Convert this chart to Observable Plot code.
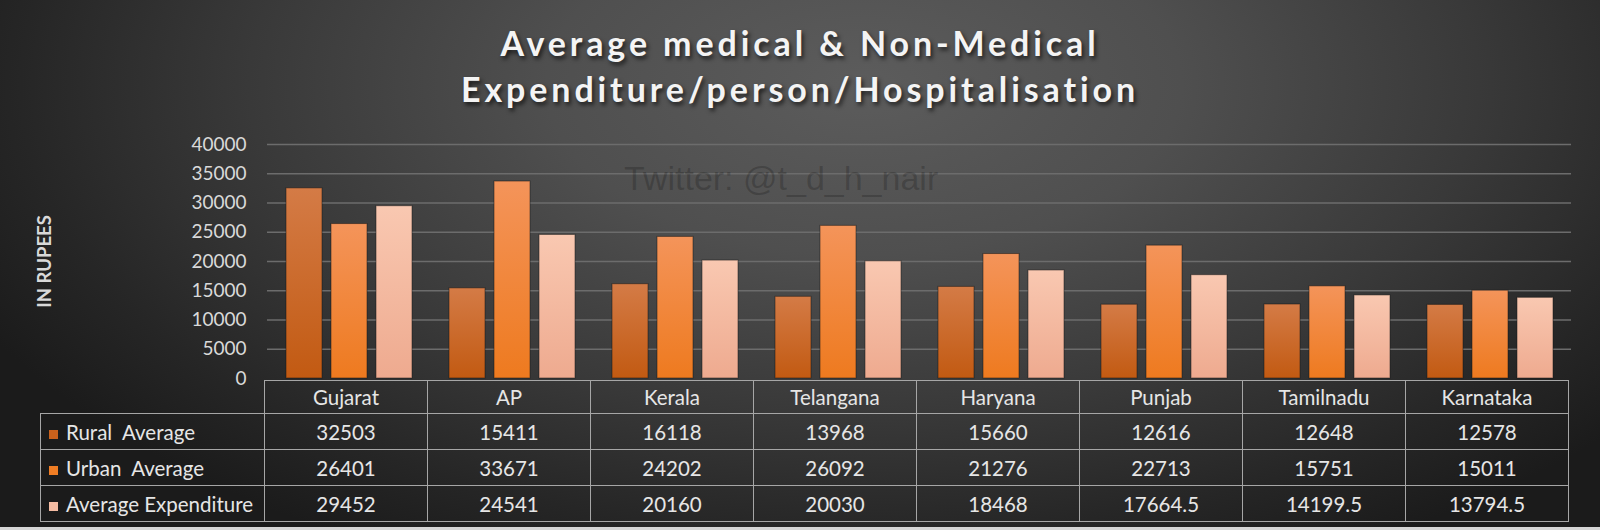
<!DOCTYPE html>
<html>
<head>
<meta charset="utf-8">
<script src="https://cdn.jsdelivr.net/npm/d3@7"></script>
<script src="https://cdn.jsdelivr.net/npm/@observablehq/plot@0.6"></script>
<style>
html, body { margin: 0; padding: 0; background: #1c1c1c; }
#wrap {
  position: relative; width: 1600px; height: 530px; overflow: hidden;
  background: radial-gradient(ellipse 62% 100% at 54% 16%, #5c5c5c 0%, #4f4f4f 32%, #393939 62%, #262626 85%, #1b1b1b 100%);
  font-family: Lato, "Open Sans", sans-serif;
}
#title {
  position: absolute; left: 0; top: 0; width: 1600px; height: 120px; box-sizing: border-box;
  padding-top: 20px; text-align: center; color: #f4f4f4; font-weight: bold;
  font-size: 34px; line-height: 46px; letter-spacing: 3.9px;
  text-shadow: 2px 3px 4px rgba(0,0,0,0.65);
}
#chart { position: absolute; left: 0; top: 120px; }
#chart svg { overflow: visible; }
#chart g[aria-label="y-axis label"] text { font-weight: bold; font-size: 18.5px; fill: #d9d9d9; }
#watermark {
  position: absolute; left: 624px; top: 158px; font-family: "Liberation Sans", Arial, sans-serif;
  font-size: 34px; line-height: 40px; color: rgba(0,0,0,0.2); white-space: pre;
}
#dt {
  position: absolute; left: 40px; top: 380px; border-collapse: collapse; table-layout: fixed;
  color: #e6e6e6; font-size: 20.5px; font-family: Lato, "Open Sans", sans-serif;
}
#dt td { border: 1.5px solid #a6a6a6; text-align: center; padding: 0; height: 35px; white-space: pre; }
#dt tr.hdr td { height: 32px; }
#dt td.blank { border-top: none; border-left: none; }
#dt td.lab { text-align: left; padding-left: 8px; }
#dt .key { display: inline-block; width: 9px; height: 9px; margin-right: 8px; vertical-align: 1px; }
#strip { position: absolute; left: 0; bottom: 0; width: 1600px; height: 3px; background: #d6d6d6; }
</style>
</head>
<body>
<div id="wrap">
  <div id="title">Average medical &amp; Non-Medical<br>Expenditure/person/Hospitalisation</div>
  <div id="chart"></div>
  <div id="watermark">Twitter: @t_d_h_nair</div>
  <div id="strip"></div>
</div>
<script>
const states = ["Gujarat", "AP", "Kerala", "Telangana", "Haryana", "Punjab", "Tamilnadu", "Karnataka"];
const seriesNames = ["Rural  Average", "Urban  Average", "Average Expenditure"];
const rural = [32503, 15411, 16118, 13968, 15660, 12616, 12648, 12578];
const urban = [26401, 33671, 24202, 26092, 21276, 22713, 15751, 15011];
const avgExp = [29452, 24541, 20160, 20030, 18468, 17664.5, 14199.5, 13794.5];
const yTicks = [0, 5000, 10000, 15000, 20000, 25000, 30000, 35000, 40000];
const seriesFills = ["url(#gRural)", "url(#gUrban)", "url(#gAvg)"];
const keyColors = ["#c9611c", "#f07d24", "#f5bca3"];
const gradStops = [["gRural", "#d47b46", "#c25a12"], ["gUrban", "#f4945a", "#ee7a1f"], ["gAvg", "#f9c8b1", "#eeaa8f"]];

const seriesValues = [rural, urban, avgExp];
const rows = states.flatMap((s, i) => seriesNames.map((n, j) => ({state: s, series: n, value: seriesValues[j][i]})));

const chart = Plot.plot({
  width: 1600, height: 260,
  marginLeft: 264, marginRight: 26, marginTop: 24, marginBottom: 2,
  style: {background: "transparent", color: "#d9d9d9", fontFamily: "Lato, 'Open Sans', sans-serif", fontSize: "19px", overflow: "visible"},
  fx: {domain: states, padding: 0, axis: null},
  x: {domain: seriesNames, paddingInner: 0.2, paddingOuter: 0.4, axis: null},
  y: {domain: [0, 40000], ticks: yTicks, tickFormat: d3.format("d"), tickSize: 0, tickPadding: 21,
      label: "IN RUPEES", labelAnchor: "center", labelOffset: 230, labelArrow: "none"},
  color: {type: "ordinal", domain: seriesNames, range: seriesFills},
  marks: [
    Plot.ruleY(yTicks.filter(t => t > 0), {stroke: "#6c6c6c", strokeWidth: 1.5}),
    Plot.barY(rows, {fx: "state", x: "series", y: "value", fill: "series", stroke: "rgba(20,20,20,0.5)", strokeWidth: 1})
  ]
});

const defs = d3.select(chart).insert("defs", ":first-child");
gradStops.forEach(([id, top, bottom]) => {
  const g = defs.append("linearGradient").attr("id", id).attr("x1", 0).attr("y1", 0).attr("x2", 0).attr("y2", 1);
  g.append("stop").attr("offset", "0%").attr("stop-color", top);
  g.append("stop").attr("offset", "100%").attr("stop-color", bottom);
});
document.getElementById("chart").appendChild(chart);

// data table under the chart, columns aligned to the fx scale
let fxScale = null;
try { fxScale = chart.scale("fx"); } catch (e) {}
const left0 = fxScale && fxScale.range ? fxScale.range[0] : 264;
const step = fxScale && fxScale.step ? fxScale.step : 1310 / states.length;
const table = d3.select("#wrap").append("table").attr("id", "dt");
const colgroup = table.append("colgroup");
colgroup.append("col").style("width", (left0 - 40) + "px");
states.forEach(() => colgroup.append("col").style("width", step + "px"));
table.style("width", (left0 - 40 + step * states.length) + "px");
const hdr = table.append("tr").attr("class", "hdr");
hdr.append("td").attr("class", "blank");
states.forEach(s => hdr.append("td").text(s));
seriesNames.forEach((n, j) => {
  const tr = table.append("tr");
  const lab = tr.append("td").attr("class", "lab");
  lab.append("span").attr("class", "key").style("background", keyColors[j]);
  lab.append("span").text(n);
  seriesValues[j].forEach(v => tr.append("td").text(String(v)));
});
</script>
</body>
</html>
